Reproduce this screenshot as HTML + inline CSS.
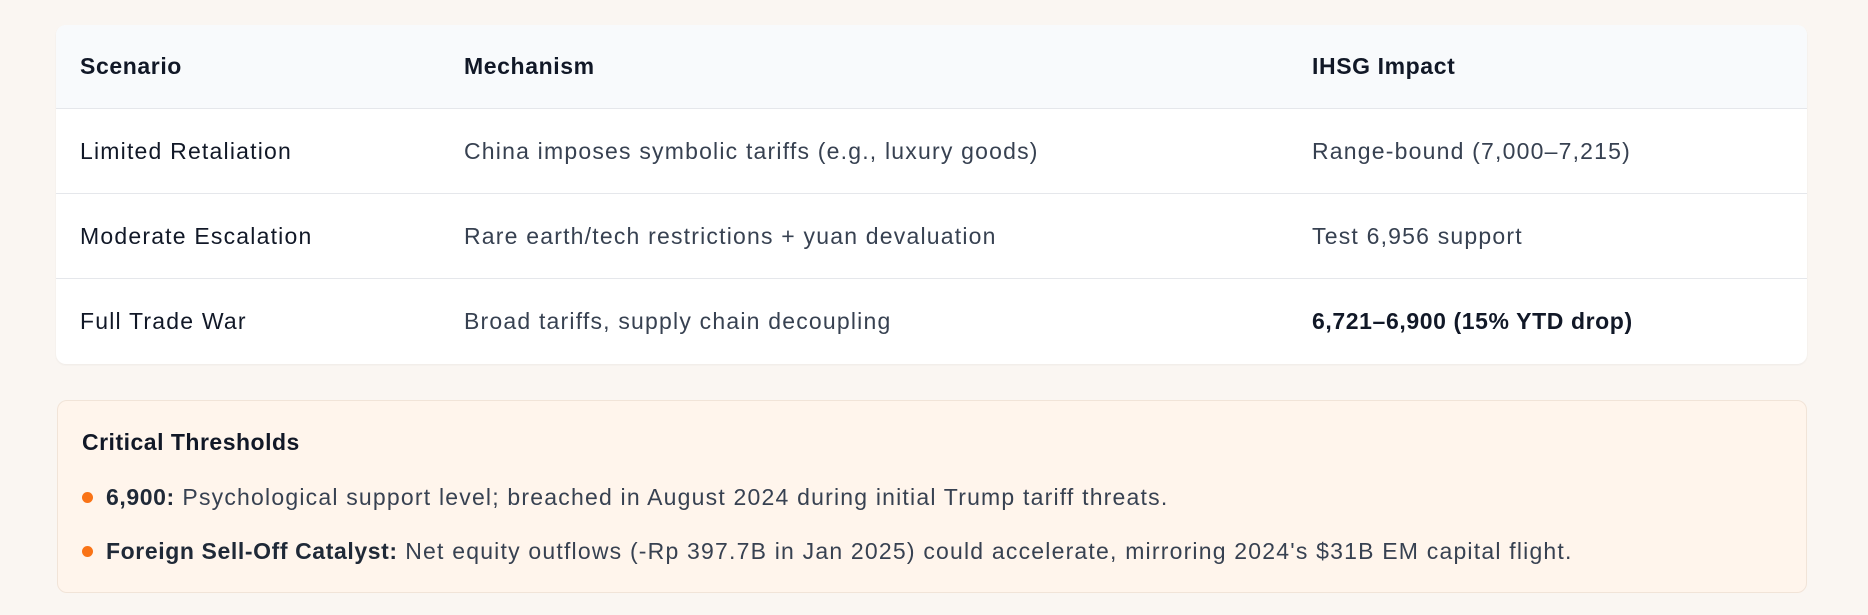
<!DOCTYPE html>
<html>
<head>
<meta charset="utf-8">
<style>
  html,body{margin:0;padding:0;}
  body{width:1868px;height:615px;background:#faf6f2;position:relative;overflow:hidden;font-family:"Liberation Sans",sans-serif;}
  .table{position:absolute;left:56px;top:25px;width:1751px;height:339px;background:#fff;border-radius:10px;overflow:hidden;box-shadow:0 1px 2px rgba(0,0,0,0.05);}
  .row{position:absolute;left:0;width:100%;height:85px;border-bottom:1px solid #e5e7eb;box-sizing:border-box;}
  .row.head{background:#f8fafc;height:84px;}
  .row.last{border-bottom:none;}
  .cell{position:absolute;top:0;height:100%;display:flex;align-items:center;font-size:23px;letter-spacing:1.2px;color:#374151;white-space:nowrap;}
  .head .cell{font-weight:bold;color:#111827;letter-spacing:0.6px;}
  .c1{left:24px;color:#111827;}
  .c2{left:408px;}
  .c3{left:1256px;}
  .callout{position:absolute;left:57px;top:400px;width:1750px;height:193px;box-sizing:border-box;background:#fff5ec;border:1px solid #f1e4d8;border-radius:10px;}
  .ctitle{position:absolute;left:24px;top:28px;font-size:23px;letter-spacing:0.5px;font-weight:bold;color:#111827;}
  .item{position:absolute;left:48px;font-size:23px;letter-spacing:1.2px;color:#374151;white-space:nowrap;}
  .item b{color:#1f2937;letter-spacing:0.6px;}
  .dot{position:absolute;left:24px;width:11px;height:11px;border-radius:50%;background:#f97316;}
</style>
</head>
<body>
<div class="table">
  <div class="row head" style="top:0">
    <div class="cell c1">Scenario</div>
    <div class="cell c2">Mechanism</div>
    <div class="cell c3">IHSG Impact</div>
  </div>
  <div class="row" style="top:84px">
    <div class="cell c1">Limited Retaliation</div>
    <div class="cell c2">China imposes symbolic tariffs (e.g., luxury goods)</div>
    <div class="cell c3">Range-bound (7,000–7,215)</div>
  </div>
  <div class="row" style="top:169px">
    <div class="cell c1">Moderate Escalation</div>
    <div class="cell c2">Rare earth/tech restrictions + yuan devaluation</div>
    <div class="cell c3">Test 6,956 support</div>
  </div>
  <div class="row last" style="top:254px">
    <div class="cell c1">Full Trade War</div>
    <div class="cell c2">Broad tariffs, supply chain decoupling</div>
    <div class="cell c3" style="font-weight:bold;color:#111827;letter-spacing:0.6px">6,721–6,900 (15% YTD drop)</div>
  </div>
</div>
<div class="callout">
  <div class="ctitle">Critical Thresholds</div>
  <div class="dot" style="top:91px"></div>
  <div class="item" style="top:83px"><b>6,900:</b> Psychological support level; breached in August 2024 during initial Trump tariff threats.</div>
  <div class="dot" style="top:145px"></div>
  <div class="item" style="top:137px"><b>Foreign Sell-Off Catalyst:</b> Net equity outflows (-Rp 397.7B in Jan 2025) could accelerate, mirroring 2024's $31B EM capital flight.</div>
</div>
</body>
</html>
